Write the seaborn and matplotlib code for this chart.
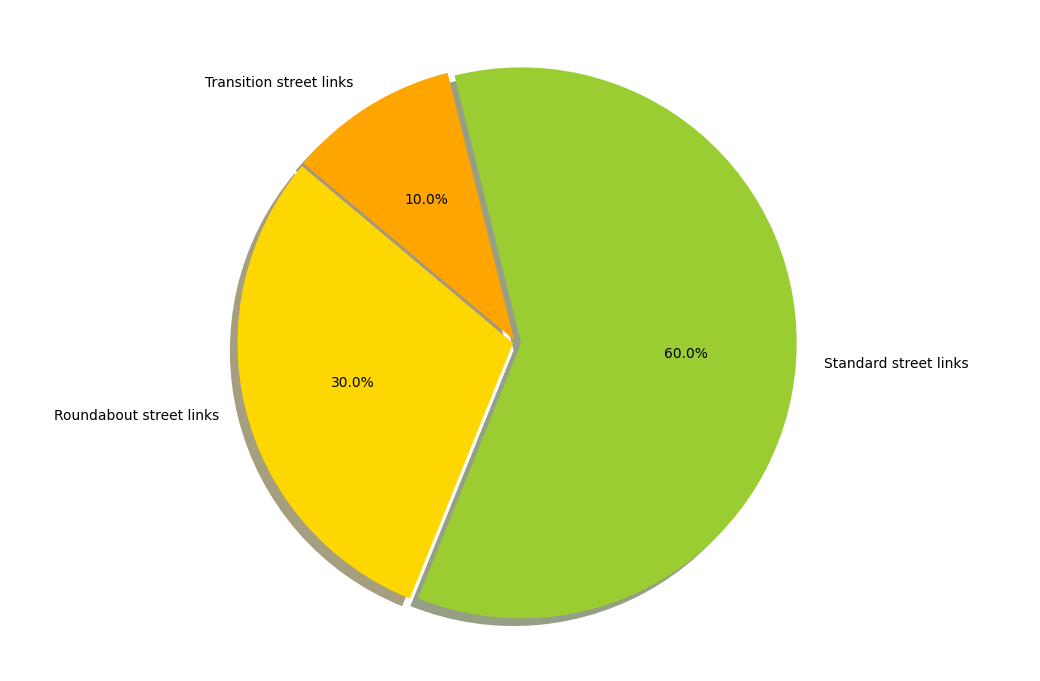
import matplotlib
matplotlib.use("Agg")
import matplotlib.pyplot as plt
import seaborn as sns

# street link composition
labels = ["Roundabout street links", "Standard street links", "Transition street links"]
shares = [30, 60, 10]
colors = ["gold", "yellowgreen", "orange"]
explode = [0.01, 0.02, 0.01]

sns.set_style("white", {"text.color": "black"})
palette = sns.color_palette(colors)

fig = plt.figure(figsize=(10.4, 6.81), dpi=100)
ax = fig.add_axes([0, 0, 1, 1])

ax.pie(shares, labels=labels, colors=palette, explode=explode,
       autopct="%1.1f%%", shadow=True, startangle=140,
       wedgeprops={"linewidth": 0, "edgecolor": "none"})

# place the pie like the reference (center ~ (516, 342) px, radius ~275 px)
scale = 275.5
cx, cy = 515.7, 681 - 342.5
ax.set_aspect("auto")
ax.set_xlim(-cx / scale, (1040 - cx) / scale)
ax.set_ylim(-cy / scale, (681 - cy) / scale)
ax.axis("off")

fig.savefig("out.png", dpi=100)
